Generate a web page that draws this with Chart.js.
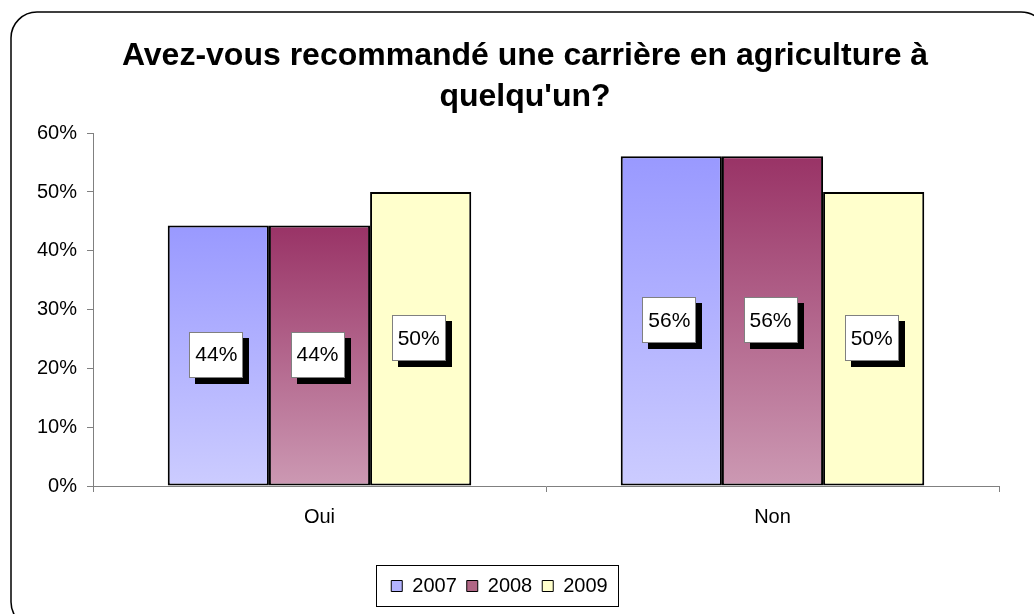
<!DOCTYPE html>
<html>
<head>
<meta charset="utf-8">
<script src="https://cdn.jsdelivr.net/npm/chart.js@4.4.0/dist/chart.umd.min.js"></script>
<style>
    html, body { margin: 0; padding: 0; background: #fff; }
    #wrap { width: 1034px; height: 614px; }
</style>
</head>
<body>
<div id="wrap"><canvas id="chart"></canvas></div>
<script>
const categories = ['Oui', 'Non'];
const years = ['2007', '2008', '2009'];
const values2007 = [44.3, 56.1];
const values2008 = [44.3, 56.1];
const values2009 = [50, 50];
const yTickLabels = ['0%', '10%', '20%', '30%', '40%', '50%', '60%'];
const titleLines = ["Avez-vous recommandé une carrière en agriculture à", "quelqu'un?"];

const FONT = '"Liberation Sans", Arial, sans-serif';

// per-bar vertical gradient, from the bar top down to the zero line
function barFill(top, bottom, swatch) {
    return (ctx) => {
        if (ctx.type !== 'data') return swatch;
        const y = ctx.chart.scales.y;
        const g = ctx.chart.ctx.createLinearGradient(0, y.getPixelForValue(ctx.raw), 0, y.getPixelForValue(0));
        g.addColorStop(0, top);
        g.addColorStop(1, bottom);
        return g;
    };
}

const frame = {
    id: 'frame',
    beforeDraw(chart) {
        const c = chart.ctx;
        c.save();
        c.fillStyle = '#fff';
        c.fillRect(0, 0, chart.width, chart.height);
        c.strokeStyle = '#000';
        c.lineWidth = 1.5;
        c.beginPath();
        c.roundRect(11, 12, 1036, 616, 26);
        c.stroke();
        c.restore();
    },
    afterLayout(chart) {
        // title sits a little right of the canvas centre
        chart.titleBlock.left = 16;
        chart.titleBlock.right = chart.width;
    },
    afterDraw(chart) {
        const boxes = chart.legend.legendHitBoxes;
        if (!boxes.length) return;
        const left = boxes[0].left - 15;
        const last = boxes[boxes.length - 1];
        const right = last.left + last.width + 11;
        const cy = boxes[0].top + boxes[0].height / 2;
        const c = chart.ctx;
        c.save();
        c.strokeStyle = '#000';
        c.lineWidth = 1;
        c.strokeRect(Math.round(left) + 0.5, Math.round(cy - 21) + 0.5, Math.round(right - left), 41);
        c.restore();
    }
};

const valueBoxes = {
    id: 'valueBoxes',
    afterDatasetsDraw(chart) {
        const c = chart.ctx;
        c.save();
        c.font = '21px ' + FONT;
        c.textAlign = 'center';
        c.textBaseline = 'middle';
        chart.data.datasets.forEach((ds, i) => {
            chart.getDatasetMeta(i).data.forEach((bar, j) => {
                const cx = bar.x - 2;
                const cy = (bar.y + bar.base) / 2 - 1;
                const w = 54, h = 46;
                const x = Math.round(cx - w / 2), y = Math.round(cy - h / 2);
                c.fillStyle = '#000';
                c.fillRect(x + 6, y + 6, w, h);
                c.fillStyle = '#fff';
                c.fillRect(x, y, w, h);
                c.strokeStyle = '#808080';
                c.lineWidth = 1;
                c.strokeRect(x + 0.5, y + 0.5, w - 1, h - 1);
                c.fillStyle = '#000';
                c.fillText(Math.round(ds.data[j]) + '%', cx, cy + 1);
            });
        });
        c.restore();
    }
};

new Chart(document.getElementById('chart'), {
    type: 'bar',
    data: {
        labels: categories,
        datasets: [{
            label: years[0],
            data: values2007,
            backgroundColor: barFill('#9999ff', '#ccccff', '#b3b3ff'),
        }, {
            label: years[1],
            data: values2008,
            backgroundColor: barFill('#993366', '#cc99b3', '#b06685'),
        }, {
            label: years[2],
            data: values2009,
            backgroundColor: '#ffffcc',
        }],
    },
    options: {
        responsive: true,
        maintainAspectRatio: false,
        animation: false,
        layout: { padding: { left: 0, right: 35, top: 0, bottom: 8 } },
        datasets: {
            bar: {
                borderColor: '#000',
                borderWidth: 2,
                borderSkipped: false,
                categoryPercentage: 0.67,
                barPercentage: 1,
            },
        },
        plugins: {
            title: {
                display: true,
                text: titleLines,
                color: '#000',
                font: { family: FONT, size: 32, weight: 'bold', lineHeight: 1.3 },
                padding: { top: 35, bottom: 15 },
            },
            legend: {
                position: 'bottom',
                labels: {
                    color: '#000',
                    font: { family: FONT, size: 20 },
                    boxWidth: 11,
                    boxHeight: 11,
                    padding: 10,
                    generateLabels(chart) {
                        const swatches = ['#b3b3ff', '#b06685', '#ffffcc'];
                        return chart.data.datasets.map((ds, i) => ({
                            text: ds.label,
                            fillStyle: swatches[i],
                            strokeStyle: '#000',
                            lineWidth: 1,
                            datasetIndex: i,
                        }));
                    },
                },
            },
            tooltip: { enabled: false },
        },
        scales: {
            x: {
                grid: {
                    offset: true,
                    drawOnChartArea: false,
                    drawTicks: true,
                    tickLength: 6,
                    color: '#808080',
                },
                border: { color: '#808080', width: 1 },
                ticks: {
                    color: '#000',
                    font: { family: FONT, size: 20 },
                    padding: 13,
                },
                afterFit(scale) { scale.height = 80; },
            },
            y: {
                min: 0,
                max: 60,
                grid: {
                    drawOnChartArea: false,
                    drawTicks: true,
                    tickLength: 6,
                    color: '#808080',
                },
                border: { color: '#808080', width: 1 },
                ticks: {
                    stepSize: 10,
                    color: '#000',
                    font: { family: FONT, size: 20 },
                    padding: 10,
                    callback: (v) => yTickLabels[v / 10],
                },
                afterFit(scale) { scale.width = 93; },
            },
        },
    },
    plugins: [frame, valueBoxes],
});
</script>
</body>
</html>
